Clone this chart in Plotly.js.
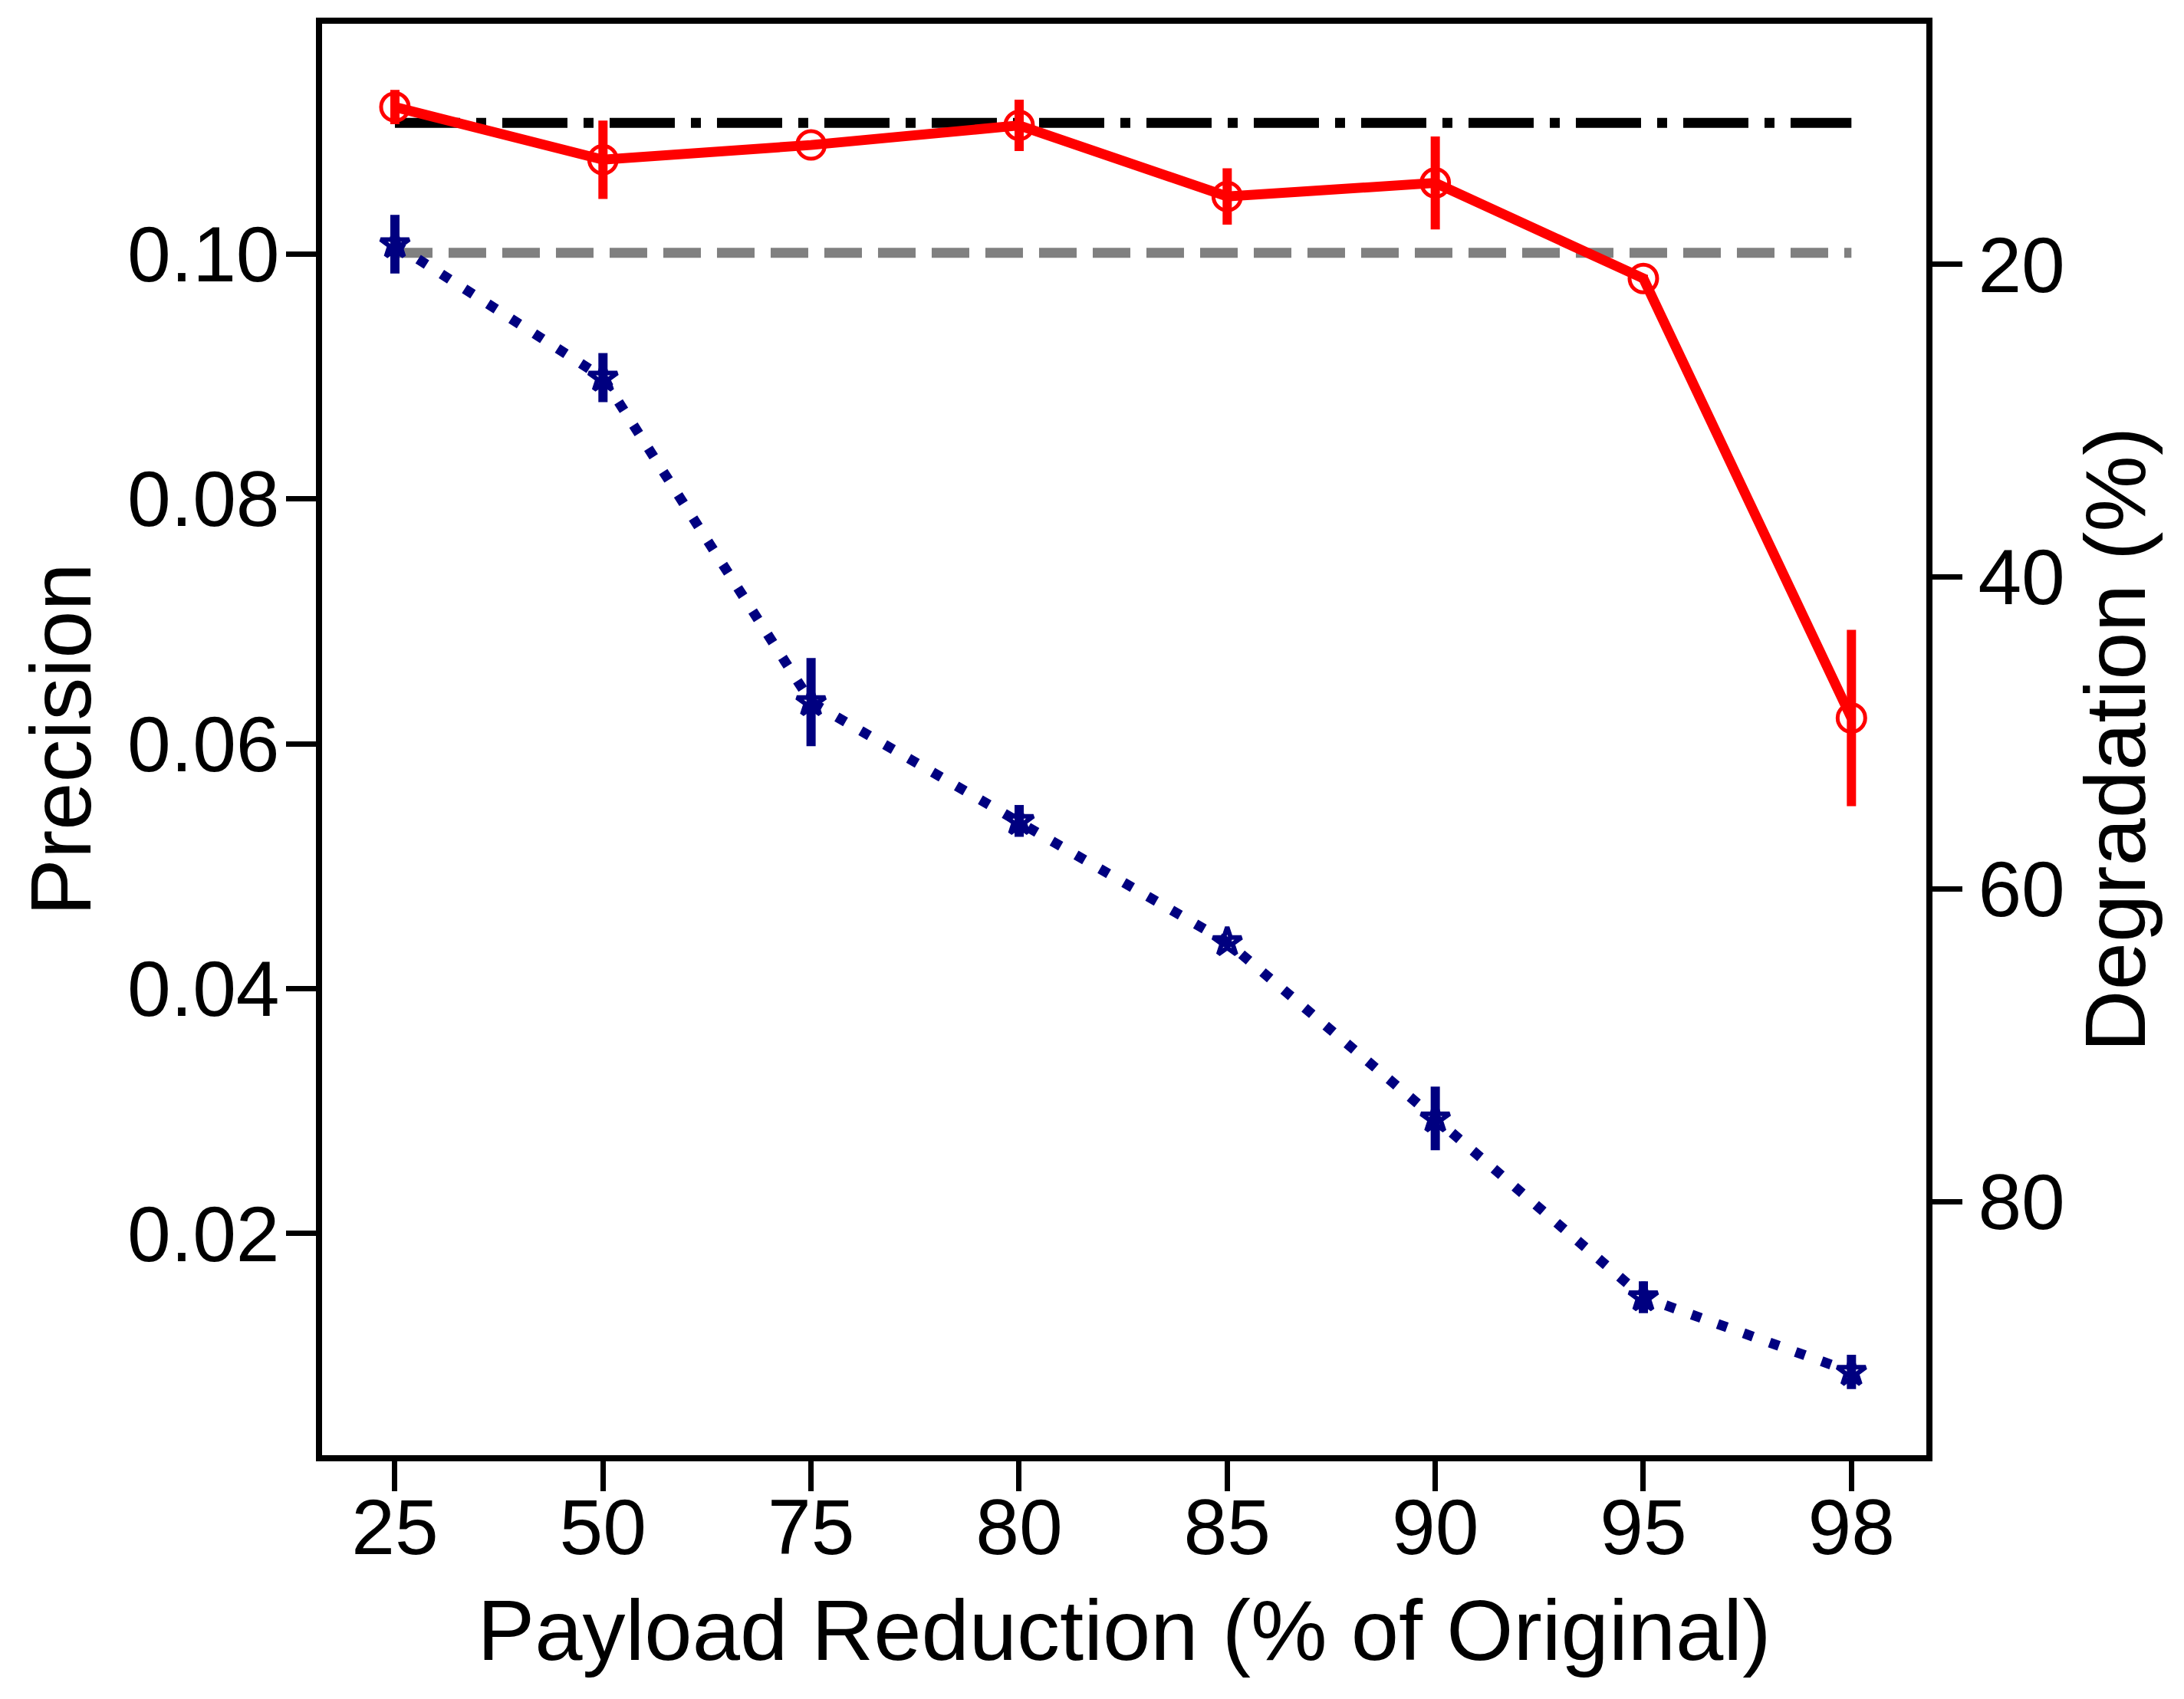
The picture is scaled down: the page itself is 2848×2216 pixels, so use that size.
<!DOCTYPE html>
<html>
<head>
<meta charset="utf-8">
<script src="https://cdn.plot.ly/plotly-3.0.1.min.js"></script>
<style>html,body{margin:0;padding:0;background:#fff;}#chart{width:2848px;height:2216px;}</style>
</head>
<body>
<div id="chart"></div>
<script>
// Payload reduction categories (x tick labels)
const payloadReduction = ['25', '50', '75', '80', '85', '90', '95', '98'];

// Red series (solid line, open circles)
const redPrecision = [0.1120, 0.1077, 0.1089, 0.1105, 0.1047, 0.1058, 0.0980, 0.0621];
const redError     = [0.0014, 0.0032, 0.0003, 0.0021, 0.0023, 0.0038, 0.0003, 0.0072];

// Navy series (dotted line, stars)
const navyPrecision = [0.1008, 0.0899, 0.0634, 0.0537, 0.0438, 0.0294, 0.0148, 0.0087];
const navyError     = [0.0024, 0.0020, 0.0036, 0.0013, 0.0004, 0.0026, 0.0013, 0.0014];

// Reference levels
const blackReference = 0.1107;
const grayReference  = 0.1001;

// Axis ticks
const precisionTicks = [0.02, 0.04, 0.06, 0.08, 0.10];
const degradationTicks = [20, 40, 60, 80];

const FONT = 'Liberation Sans, Arial, Helvetica, sans-serif';
const ends = [payloadReduction[0], payloadReduction[payloadReduction.length - 1]];

const traces = [
  {
    x: ends, y: [blackReference, blackReference], mode: 'lines', showlegend: false,
    line: {color: '#000000', width: 13, dash: '85px,21px,13px,21px'}, hoverinfo: 'skip'
  },
  {
    x: ends, y: [grayReference, grayReference], mode: 'lines', showlegend: false,
    line: {color: '#808080', width: 13, dash: '49px,21px'}, hoverinfo: 'skip'
  },
  {
    x: payloadReduction, y: navyPrecision, mode: 'lines+markers', showlegend: false,
    line: {color: '#000080', width: 13, dash: '13px,23px'},
    marker: {symbol: 'star-open', size: 28, color: '#000080', line: {color: '#000080', width: 6}},
    error_y: {type: 'data', array: navyError, visible: true, thickness: 12, width: 0, color: '#000080'}
  },
  {
    x: payloadReduction, y: redPrecision, mode: 'lines+markers', showlegend: false,
    line: {color: '#ff0000', width: 13},
    marker: {symbol: 'circle-open', size: 36, color: '#ff0000', line: {color: '#ff0000', width: 5}},
    error_y: {type: 'data', array: redError, visible: true, thickness: 12, width: 0, color: '#ff0000'}
  },
  // empty trace so the right-hand Degradation axis is created
  {x: [], y: [], xaxis: 'x', yaxis: 'y2', mode: 'lines', showlegend: false, hoverinfo: 'skip'}
];

const layout = {
  width: 2848, height: 2216,
  paper_bgcolor: '#ffffff', plot_bgcolor: '#ffffff',
  margin: {l: 420, r: 336, t: 31, b: 318},
  showlegend: false,
  font: {family: FONT, color: '#000000'},
  xaxis: {
    type: 'category', categoryorder: 'array', categoryarray: payloadReduction,
    range: [-0.35, 7.36],
    showgrid: false, zeroline: false,
    showline: true, linecolor: '#000000', linewidth: 8, mirror: true,
    ticks: 'outside', ticklen: 39, tickwidth: 7, tickcolor: '#000000',
    ticklabelstandoff: -40,
    tickfont: {family: FONT, size: 102, color: '#000000'},
    title: {text: 'Payload Reduction (% of Original)', font: {family: FONT, size: 112, color: '#000000'}, standoff: 41}
  },
  yaxis: {
    range: [0.0019, 0.1188],
    tickvals: precisionTicks, tickformat: '.2f',
    showgrid: false, zeroline: false,
    showline: true, linecolor: '#000000', linewidth: 8,
    ticks: 'outside', ticklen: 39, tickwidth: 7, tickcolor: '#000000',
    ticklabelstandoff: -12,
    tickfont: {family: FONT, size: 102, color: '#000000'},
    title: {text: 'Precision', font: {family: FONT, size: 112, color: '#000000'}, standoff: 13}
  },
  yaxis2: {
    overlaying: 'y', side: 'right', anchor: 'x',
    range: [96.25, 4.59],
    tickvals: degradationTicks,
    showgrid: false, zeroline: false,
    showline: true, linecolor: '#000000', linewidth: 8,
    ticks: 'outside', ticklen: 39, tickwidth: 7, tickcolor: '#000000',
    tickfont: {family: FONT, size: 102, color: '#000000'},
    title: {text: 'Degradation (%)', font: {family: FONT, size: 112, color: '#000000'}, standoff: 30}
  }
};

Plotly.newPlot('chart', traces, layout, {staticPlot: true, displayModeBar: false});
</script>
</body>
</html>
